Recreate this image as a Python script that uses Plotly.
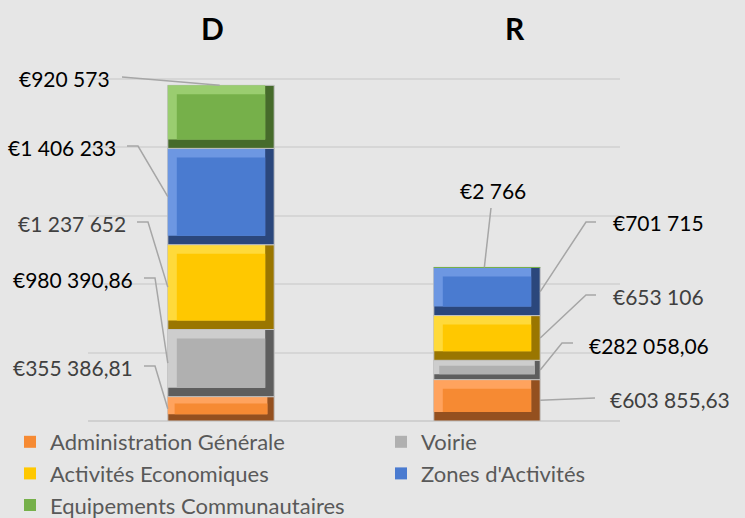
import plotly.graph_objects as go

# ---------------- data ----------------
categories = ["D", "R"]
series_names = ["Administration Générale", "Voirie", "Activités Economiques",
                "Zones d'Activités", "Equipements Communautaires"]
admin_generale = [355386.81, 603855.63]
voirie = [980390.86, 282058.06]
activites_eco = [1237652, 653106]
zones_activites = [1406233, 701715]
equipements = [920573, 2766]
series_values = [admin_generale, voirie, activites_eco, zones_activites, equipements]

# ---------------- style ----------------
face_colors = ["#F68A33", "#B0B0B0", "#FFC800", "#4A7BD0", "#76B04A"]
light_colors = ["#FFA35E", "#CDCDCD", "#FFDA3A", "#6D97E2", "#9ACD70"]
dark_colors = ["#94501F", "#5E5E5E", "#9A7600", "#2B477C", "#466B2B"]
label_colors = ["#404040", "#000000", "#404040", "#000000", "#000000"]
BG = "#E6E6E6"
FONT = "Lato"

W, H = 745, 518
ML, MR, MT, MB = 88, 125, 10, 97
PW, PH = W - ML - MR, H - MT - MB
XR = (-0.5, 1.5)
YR = (0, 6_000_000)
BAR_W = 0.4
BEVEL_PX = 9


def px2x(px):
    return XR[0] + (px - ML) / PW * (XR[1] - XR[0])


def py2y(py):
    return YR[0] + (MT + PH - py) / PH * (YR[1] - YR[0])


Y_PER_PX = (YR[1] - YR[0]) / PH
X_PER_PX = (XR[1] - XR[0]) / PW


def fmt(v):
    s = f"{v:,.2f}".replace(",", " ").replace(".", ",")
    if s.endswith(",00"):
        s = s[:-3]
    return "€" + s


xpos = list(range(len(categories)))

fig = go.Figure()
bases = [0.0] * len(categories)
for i, (name, vals) in enumerate(zip(series_names, series_values)):
    base = list(bases)
    dpx = [min(BEVEL_PX, (v / Y_PER_PX) * 0.28) for v in vals]
    dy = [d * Y_PER_PX for d in dpx]
    dx = [d * X_PER_PX for d in dpx]
    common = dict(x=xpos, hoverinfo="skip", legendgroup=name)
    # shadow (full segment)
    fig.add_trace(go.Bar(
        y=vals, base=base, width=[BAR_W] * len(xpos), offset=[-BAR_W / 2] * len(xpos),
        marker=dict(color=dark_colors[i], line=dict(color="#C4C4C4", width=1)),
        showlegend=False, **common))
    # highlight (top-left)
    fig.add_trace(go.Bar(
        y=[v - d for v, d in zip(vals, dy)], base=[b + d for b, d in zip(base, dy)],
        width=[BAR_W - d for d in dx], offset=[-BAR_W / 2] * len(xpos),
        marker=dict(color=light_colors[i], line=dict(width=0)),
        showlegend=False, **common))
    # face
    fig.add_trace(go.Bar(
        y=[v - 2 * d for v, d in zip(vals, dy)], base=[b + d for b, d in zip(base, dy)],
        width=[BAR_W - 2 * d for d in dx], offset=[-BAR_W / 2 + d for d in dx],
        marker=dict(color=face_colors[i], line=dict(width=0)),
        name=name, showlegend=True,
        legend="legend" if i in (0, 2, 4) else "legend2", **common))
    bases = [b + v for b, v in zip(bases, vals)]

# label layout (pixel positions of texts and leader elbows), per category, per series
label_layout = {
    0: [
        (135, 367, "right", [(144, 366), (155, 366)], "edge"),
        (135, 279, "right", [(144, 278), (155, 278)], "edge"),
        (128, 223, "right", [(137, 222), (148, 222)], "edge"),
        (118, 147, "right", [(127, 146), (138, 146)], "edge"),
        (112, 78, "right", [(122, 77)], "top"),
    ],
    1: [
        (608, 399, "left", [(595, 398)], "edge"),
        (587, 345, "left", [(573, 343), (562, 343)], "edge"),
        (611, 296, "left", [(596, 295), (586, 295)], "edge"),
        (611, 222, "left", [(596, 222), (586, 222)], "edge"),
        (493, 190, "center", [(491, 208)], "top"),
    ],
}

annotations = []
for ci, xc in enumerate(xpos):
    cum = 0.0
    total = sum(v[ci] for v in series_values)
    side = -1 if ci == 0 else 1
    for si, vals in enumerate(series_values):
        v = vals[ci]
        mid = cum + v / 2
        cum += v
        tx, ty, anchor, via, attach = label_layout[ci][si]
        if attach == "top":
            end = (xc - 0.005 * (1 if ci == 0 else 2), total)
        else:
            end = (xc + side * BAR_W / 2, mid)
        lx = [px2x(p[0]) for p in via] + [end[0]]
        ly = [py2y(p[1]) for p in via] + [end[1]]
        fig.add_trace(go.Scatter(
            x=lx, y=ly, mode="lines", line=dict(color="#A6A6A6", width=1.5),
            showlegend=False, hoverinfo="skip", cliponaxis=False,
        ))
        annotations.append(dict(
            x=px2x(tx), y=py2y(ty), xref="x", yref="y", text=fmt(v),
            showarrow=False, xanchor=anchor, yanchor="middle",
            font=dict(family=FONT, size=21, color=label_colors[si]),
        ))

# category labels on top
cat_shift = [-9, 28]
for ci, c in enumerate(categories):
    annotations.append(dict(
        x=xpos[ci], y=py2y(28), xref="x", yref="y", text=f"<b>{c}</b>",
        showarrow=False, xanchor="center", yanchor="middle", xshift=cat_shift[ci],
        font=dict(family=FONT, size=30, color="#000000"),
    ))

legend_style = dict(xanchor="left", yanchor="top", orientation="v",
                    bgcolor="rgba(0,0,0,0)", tracegroupgap=0,
                    font=dict(family=FONT, size=22, color="#595959"))

fig.update_layout(
    width=W, height=H,
    margin=dict(l=ML, r=MR, t=MT, b=MB, pad=0, autoexpand=False),
    paper_bgcolor=BG, plot_bgcolor=BG,
    barmode="overlay",
    font=dict(family=FONT, size=18, color="#595959"),
    showlegend=True,
    legend=dict(x=(10 - ML) / PW, y=py2y(421) / YR[1], **legend_style),
    legend2=dict(x=(381 - ML) / PW, y=py2y(421) / YR[1], **legend_style),
    xaxis=dict(range=list(XR), showticklabels=False, showgrid=False, zeroline=False,
               showline=False, fixedrange=True),
    yaxis=dict(range=list(YR), dtick=1_000_000, showticklabels=False, showgrid=True,
               gridcolor="#D6D6D6", gridwidth=1.5, zeroline=True, zerolinecolor="#D0D0D0",
               zerolinewidth=2, showline=False, fixedrange=True),
    annotations=annotations,
)

fig.write_html("out.html", config={"displayModeBar": False},
               post_script="document.body.style.margin='0';document.body.style.overflow='hidden';")
